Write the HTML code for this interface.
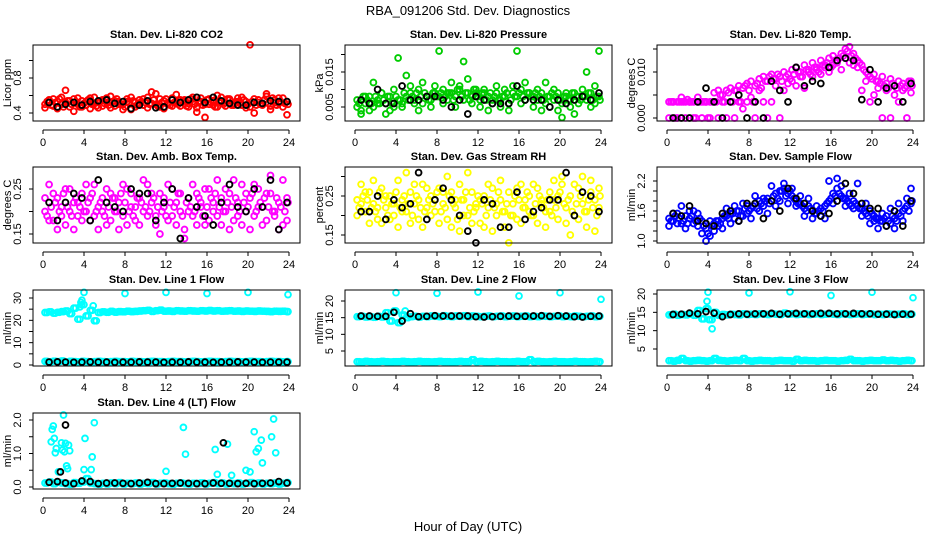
<!DOCTYPE html>
<html><head><meta charset="utf-8">
<style>
html,body{margin:0;padding:0;background:#fff;}
svg{display:block;font-family:"Liberation Sans",sans-serif;}
</style></head>
<body>
<svg id="chart" width="936" height="540" viewBox="0 0 936 540">
<text x="468" y="15" text-anchor="middle" font-size="13">RBA_091206  Std. Dev. Diagnostics</text>
<text x="468" y="531" text-anchor="middle" font-size="13">Hour of Day (UTC)</text>
</svg>
<script>
// shared hour categories
const denseHours = [0.2,0.6,1.0,1.4,1.8,2.2,2.6,3.0,3.4,3.8,4.2,4.6,5.0,5.4,5.8,6.2,6.6,7.0,7.4,7.8,8.2,8.6,9.0,9.4,9.8,10.2,10.6,11.0,11.4,11.8,12.2,12.6,13.0,13.4,13.8,14.2,14.6,15.0,15.4,15.8,16.2,16.6,17.0,17.4,17.8,18.2,18.6,19.0,19.4,19.8,20.2,20.6,21.0,21.4,21.8,22.2,22.6,23.0,23.4,23.8];
const offsetHours = [0.4,0.8,1.2,1.6,2.0,2.4,2.8,3.2,3.6,4.0,4.4,4.8,5.2,5.6,6.0,6.4,6.8,7.2,7.6,8.0,8.4,8.8,9.2,9.6,10.0,10.4,10.8,11.2,11.6,12.0,12.4,12.8,13.2,13.6,14.0,14.4,14.8,15.2,15.6,16.0,16.4,16.8,17.2,17.6,18.0,18.4,18.8,19.2,19.6,20.0,20.4,20.8,21.2,21.6,22.0,22.4,22.8,23.2,23.6,23.9];
const blackHours = [0.6,1.4,2.2,3.0,3.8,4.6,5.4,6.2,7.0,7.8,8.6,9.4,10.2,11.0,11.8,12.6,13.4,14.2,15.0,15.8,16.6,17.4,18.2,19.0,19.8,20.6,21.4,22.2,23.0,23.8];
const xTicks = [0,4,8,12,16,20,24];

// CO2
const co2A = [0.50,0.55,0.48,0.53,0.58,0.52,0.47,0.56,0.50,0.54,0.49,0.57,0.51,0.46,0.55,0.52,0.59,0.48,0.53,0.50,0.56,0.44,0.52,0.55,0.49,0.58,0.51,0.62,0.47,0.54,0.50,0.57,0.53,0.48,0.55,0.51,0.58,0.46,0.53,0.50,0.56,0.49,0.60,0.52,0.48,0.55,0.51,0.57,0.49,0.53,0.47,0.56,0.52,0.50,0.59,0.48,0.55,0.51,0.57,0.53];
const co2B = [0.46,0.52,0.56,0.45,0.50,0.66,0.54,0.42,0.57,0.47,0.53,0.45,0.58,0.52,0.48,0.57,0.46,0.54,0.50,0.44,0.53,0.58,0.47,0.51,0.56,0.46,0.64,0.50,0.56,0.45,0.52,0.48,0.61,0.55,0.51,0.47,0.53,0.41,0.57,0.35,0.50,0.54,0.47,0.58,0.52,0.56,0.49,0.53,0.58,0.46,1.18,0.40,0.55,0.49,0.62,0.44,0.52,0.57,0.47,0.38];
const co2C = [0.53,0.49,0.52,0.56,0.47,0.54,0.50,0.53,0.47,0.51,0.55,0.50,0.48,0.54,0.51,0.49,0.53,0.56,0.50,0.47,0.52,0.54,0.49,0.53,0.52,0.50,0.55,0.48,0.52,0.56,0.49,0.52,0.50,0.54,0.48,0.56,0.50,0.53,0.49,0.55,0.52,0.47,0.54,0.50,0.56,0.49,0.53,0.51,0.55,0.50,0.53,0.49,0.50,0.55,0.51,0.57,0.49,0.53,0.51,0.50];
const co2Black = [0.52,0.47,0.50,0.52,0.49,0.53,0.54,0.55,0.51,0.53,0.45,0.49,0.54,0.46,0.47,0.55,0.52,0.55,0.58,0.52,0.58,0.54,0.51,0.49,0.49,0.52,0.51,0.54,0.53,0.53];
// Pressure
const presA = [0.007,0.004,0.006,0.008,0.005,0.007,0.009,0.006,0.008,0.005,0.007,0.006,0.008,0.009,0.007,0.010,0.006,0.008,0.007,0.009,0.008,0.010,0.007,0.009,0.008,0.011,0.007,0.009,0.008,0.010,0.007,0.009,0.008,0.006,0.009,0.007,0.008,0.006,0.009,0.008,0.010,0.007,0.009,0.008,0.007,0.009,0.006,0.008,0.007,0.009,0.006,0.008,0.007,0.009,0.006,0.008,0.007,0.009,0.006,0.008];
const presB = [0.005,0.003,0.008,0.004,0.012,0.006,0.009,0.003,0.004,0.010,0.019,0.005,0.014,0.011,0.006,0.004,0.012,0.008,0.005,0.011,0.021,0.006,0.009,0.012,0.005,0.010,0.018,0.013,0.006,0.009,0.005,0.010,0.004,0.007,0.011,0.005,0.010,0.004,0.011,0.021,0.006,0.012,0.009,0.005,0.010,0.004,0.012,0.005,0.010,0.004,0.002,0.009,0.005,0.003,0.008,0.010,0.015,0.005,0.011,0.021];
const presC = [0.006,0.008,0.007,0.006,0.008,0.006,0.007,0.008,0.006,0.008,0.007,0.009,0.007,0.008,0.009,0.008,0.009,0.007,0.009,0.008,0.009,0.008,0.009,0.007,0.010,0.008,0.009,0.007,0.010,0.008,0.009,0.007,0.009,0.008,0.007,0.008,0.009,0.007,0.008,0.009,0.008,0.009,0.008,0.009,0.008,0.007,0.008,0.009,0.008,0.007,0.008,0.007,0.009,0.008,0.007,0.008,0.009,0.007,0.008,0.007];
const presBlack = [0.007,0.006,0.010,0.006,0.006,0.011,0.007,0.007,0.008,0.008,0.007,0.005,0.007,0.003,0.008,0.007,0.006,0.006,0.006,0.011,0.007,0.007,0.007,0.005,0.007,0.006,0.007,0.008,0.007,0.009];
// Li-820 Temp
const tempA = [0.0035,0.0035,0.0035,0.0045,0.0035,0.0035,0.0035,0.0045,0.0035,0.0035,0.0035,0.0055,0.0060,0.0050,0.0060,0.0065,0.0060,0.0070,0.0065,0.0075,0.0080,0.0070,0.0085,0.0090,0.0080,0.0095,0.0085,0.0090,0.0100,0.0095,0.0105,0.0110,0.0100,0.0115,0.0105,0.0120,0.0110,0.0125,0.0115,0.0130,0.0135,0.0125,0.0140,0.0150,0.0155,0.0140,0.0125,0.0115,0.0100,0.0090,0.0095,0.0080,0.0090,0.0075,0.0085,0.0070,0.0080,0.0075,0.0070,0.0080];
const tempB = [0.0000,0.0035,0.0000,0.0035,0.0000,0.0035,0.0000,0.0035,0.0000,0.0035,0.0000,0.0035,0.0000,0.0035,0.0000,0.0035,0.0000,0.0035,0.0020,0.0035,0.0045,0.0000,0.0060,0.0035,0.0000,0.0035,0.0070,0.0000,0.0060,0.0075,0.0080,0.0070,0.0090,0.0065,0.0100,0.0090,0.0105,0.0095,0.0110,0.0100,0.0115,0.0120,0.0105,0.0130,0.0120,0.0115,0.0110,0.0060,0.0080,0.0035,0.0050,0.0065,0.0000,0.0060,0.0000,0.0050,0.0035,0.0060,0.0000,0.0055];
const tempC = [0.0035,0.0000,0.0035,0.0035,0.0040,0.0035,0.0000,0.0035,0.0035,0.0000,0.0035,0.0035,0.0050,0.0035,0.0055,0.0035,0.0060,0.0035,0.0070,0.0060,0.0035,0.0075,0.0065,0.0080,0.0090,0.0085,0.0095,0.0080,0.0090,0.0085,0.0095,0.0100,0.0090,0.0105,0.0095,0.0110,0.0100,0.0115,0.0120,0.0110,0.0125,0.0130,0.0135,0.0145,0.0135,0.0130,0.0120,0.0105,0.0095,0.0085,0.0080,0.0075,0.0070,0.0065,0.0075,0.0065,0.0070,0.0065,0.0080,0.0070];
const tempBlack = [0.0000,0.0000,0.0000,0.0035,0.0065,0.0035,0.0000,0.0035,0.0050,0.0000,0.0035,0.0000,0.0080,0.0060,0.0035,0.0110,0.0070,0.0080,0.0075,0.0110,0.0125,0.0130,0.0125,0.0040,0.0105,0.0035,0.0065,0.0070,0.0035,0.0075];
// Amb box temp
const ambA = [0.20,0.26,0.18,0.23,0.21,0.17,0.25,0.22,0.19,0.24,0.20,0.18,0.26,0.21,0.23,0.17,0.24,0.20,0.22,0.19,0.25,0.21,0.18,0.23,0.20,0.26,0.22,0.19,0.24,0.21,0.18,0.25,0.22,0.20,0.16,0.23,0.19,0.24,0.21,0.17,0.25,0.22,0.19,0.23,0.20,0.24,0.18,0.22,0.26,0.20,0.23,0.19,0.25,0.21,0.18,0.24,0.20,0.22,0.17,0.23];
const ambB = [0.23,0.18,0.24,0.16,0.19,0.25,0.20,0.16,0.22,0.18,0.26,0.23,0.19,0.16,0.20,0.25,0.18,0.23,0.16,0.26,0.17,0.24,0.21,0.17,0.27,0.19,0.24,0.17,0.15,0.23,0.26,0.19,0.17,0.24,0.14,0.20,0.26,0.17,0.22,0.25,0.18,0.20,0.27,0.17,0.25,0.16,0.27,0.19,0.17,0.24,0.16,0.26,0.21,0.17,0.24,0.28,0.19,0.16,0.27,0.18];
const ambC = [0.19,0.21,0.22,0.20,0.24,0.21,0.19,0.23,0.21,0.20,0.22,0.24,0.20,0.22,0.19,0.21,0.23,0.20,0.24,0.22,0.20,0.19,0.23,0.22,0.21,0.20,0.23,0.21,0.20,0.19,0.22,0.21,0.24,0.19,0.22,0.21,0.20,0.23,0.19,0.21,0.23,0.24,0.21,0.20,0.22,0.21,0.23,0.20,0.22,0.21,0.24,0.20,0.22,0.23,0.21,0.20,0.23,0.21,0.20,0.22];
const ambBlack = [0.22,0.18,0.22,0.24,0.23,0.18,0.27,0.22,0.21,0.20,0.25,0.24,0.24,0.18,0.22,0.25,0.14,0.23,0.21,0.19,0.17,0.22,0.26,0.21,0.20,0.25,0.21,0.27,0.16,0.22];
// Gas stream RH
const rhA = [0.24,0.28,0.21,0.26,0.23,0.19,0.27,0.22,0.25,0.20,0.29,0.24,0.21,0.26,0.23,0.19,0.28,0.22,0.25,0.21,0.27,0.23,0.19,0.26,0.22,0.28,0.24,0.20,0.26,0.23,0.18,0.25,0.22,0.27,0.20,0.24,0.21,0.26,0.23,0.19,0.28,0.22,0.25,0.20,0.27,0.23,0.21,0.26,0.24,0.19,0.28,0.22,0.25,0.20,0.27,0.23,0.21,0.26,0.24,0.22];
const rhB = [0.20,0.23,0.26,0.18,0.29,0.22,0.18,0.25,0.19,0.23,0.17,0.21,0.31,0.18,0.28,0.24,0.17,0.27,0.20,0.24,0.18,0.26,0.30,0.17,0.24,0.16,0.20,0.31,0.18,0.22,0.24,0.17,0.28,0.16,0.23,0.29,0.17,0.13,0.20,0.27,0.18,0.24,0.21,0.28,0.18,0.24,0.17,0.21,0.29,0.25,0.30,0.18,0.15,0.28,0.19,0.30,0.17,0.29,0.16,0.27];
const rhC = [0.22,0.25,0.24,0.22,0.21,0.26,0.24,0.20,0.23,0.26,0.22,0.25,0.23,0.20,0.25,0.22,0.21,0.24,0.23,0.26,0.21,0.22,0.25,0.23,0.19,0.24,0.26,0.22,0.21,0.25,0.23,0.20,0.24,0.22,0.26,0.21,0.23,0.20,0.25,0.24,0.22,0.26,0.20,0.23,0.25,0.22,0.24,0.20,0.22,0.26,0.23,0.24,0.21,0.23,0.25,0.21,0.24,0.22,0.20,0.25];
const rhBlack = [0.21,0.21,0.25,0.19,0.24,0.22,0.23,0.31,0.19,0.24,0.27,0.24,0.20,0.16,0.13,0.24,0.23,0.17,0.17,0.26,0.19,0.21,0.22,0.24,0.24,0.31,0.20,0.26,0.25,0.21];
// Sample flow
const sfA = [1.45,1.40,1.55,1.35,1.50,1.45,1.60,1.30,1.40,1.25,1.10,1.35,1.30,1.45,1.50,1.55,1.45,1.60,1.50,1.70,1.65,1.75,1.80,1.70,1.85,1.80,1.95,2.00,2.05,1.95,1.90,1.80,1.75,1.65,1.70,1.60,1.55,1.65,1.70,1.80,1.95,2.05,1.90,1.85,1.75,1.80,1.70,1.65,1.55,1.60,1.50,1.45,1.40,1.50,1.35,1.45,1.55,1.60,1.70,1.75];
const sfB = [1.30,1.55,1.35,1.70,1.25,1.60,1.35,1.55,1.15,1.00,1.40,1.20,1.40,1.25,1.65,1.35,1.70,1.40,1.75,1.55,1.45,1.90,1.60,1.85,1.55,2.10,1.70,1.80,2.15,1.75,2.05,1.70,1.90,1.50,1.85,1.45,1.70,1.50,1.45,2.20,1.75,2.25,2.10,1.70,1.95,1.65,2.15,1.50,1.75,1.35,1.40,1.25,1.55,1.30,1.65,1.25,1.75,1.40,1.85,2.05];
const sfC = [1.40,1.50,1.45,1.40,1.35,1.50,1.40,1.45,1.30,1.15,1.30,1.40,1.35,1.50,1.45,1.55,1.60,1.50,1.65,1.60,1.70,1.65,1.75,1.80,1.75,1.90,1.85,2.00,1.90,2.00,1.85,1.75,1.70,1.60,1.65,1.55,1.60,1.60,1.75,1.85,1.90,1.95,1.85,1.80,1.70,1.75,1.65,1.60,1.50,1.55,1.45,1.40,1.45,1.40,1.50,1.40,1.50,1.65,1.60,1.80];
const sfBlack = [1.55,1.50,1.70,1.40,1.35,1.30,1.55,1.60,1.40,1.75,1.75,1.45,1.80,1.60,2.05,1.85,1.75,1.60,1.50,1.55,1.80,2.15,1.95,1.75,1.65,1.65,1.30,1.60,1.30,1.80];
// Line 1 flow
const l1Upper = [23.5,23.8,23.2,23.6,23.9,24.2,23.0,25.5,20.5,27.0,22.0,24.5,19.8,23.5,23.8,23.6,24.0,23.7,23.9,23.8,24.1,23.9,24.0,24.2,24.3,24.5,24.0,24.3,24.6,24.1,24.2,24.0,24.3,24.2,24.1,24.3,24.2,24.1,24.3,24.2,24.4,24.2,24.3,24.1,24.2,24.3,24.1,24.2,24.0,24.2,24.1,24.0,24.2,24.1,24.0,23.9,24.1,24.0,24.1,23.9];
const l1Lower = [1.6,1.4,1.7,1.5,1.8,1.3,1.6,1.5,1.4,1.6,1.5,1.4,1.5,1.6,1.5,1.4,1.5,1.6,1.5,1.5,1.4,1.6,1.5,1.5,1.4,1.5,1.6,1.5,1.5,1.4,1.5,1.6,1.5,1.5,1.4,1.5,1.6,1.5,1.4,1.5,1.6,1.5,1.5,1.4,1.5,1.6,1.5,1.5,1.4,1.5,1.6,1.5,1.5,1.4,1.5,1.6,1.5,1.5,1.4,1.5];
const l1Black = [1.3,1.4,1.3,1.2,1.3,1.4,1.3,1.3,1.2,1.3,1.3,1.4,1.3,1.3,1.2,1.3,1.3,1.4,1.3,1.3,1.2,1.3,1.3,1.4,1.3,1.3,1.2,1.3,1.3,1.3];
const l1OutHours = [3.6,3.7,3.8,4.0,4.9,8.0,12.0,16.0,20.0,23.9];
const l1OutValues = [26.0,28.0,29.0,32.5,26.5,32.0,32.5,32.0,32.5,31.5];
// Line 2 flow
const l2Upper = [15.3,15.4,15.2,15.3,15.1,15.4,15.2,16.5,14.0,17.0,13.5,15.8,15.0,15.3,15.4,15.2,15.4,15.3,15.5,15.4,15.3,15.6,15.4,15.3,15.5,15.4,15.6,15.3,15.5,15.4,15.3,15.4,15.5,15.3,15.4,15.5,15.3,15.4,15.5,15.3,15.4,15.5,15.3,15.4,15.3,15.5,15.4,15.3,15.4,15.5,15.3,15.4,15.3,15.5,15.4,15.3,15.4,15.5,15.3,15.4];
const l2Lower = [1.8,1.7,1.9,1.8,1.7,1.8,1.9,1.8,1.7,1.8,1.8,1.9,1.8,1.7,1.8,1.9,1.8,1.8,1.7,1.8,1.9,1.8,1.8,1.7,1.8,1.9,1.8,1.8,2.4,1.8,1.9,1.8,1.7,1.8,1.9,1.8,1.8,1.7,1.8,1.9,1.8,1.8,2.4,1.8,1.9,1.8,1.7,1.8,1.9,1.8,1.8,1.7,1.8,1.9,1.8,1.8,1.7,1.8,1.9,1.8];
const l2Black = [15.5,15.5,15.4,15.4,16.6,14.0,16.2,15.3,15.4,15.6,15.5,15.5,15.5,15.5,15.3,15.2,15.3,15.4,15.5,15.4,15.4,15.5,15.6,15.4,15.6,15.5,15.3,15.2,15.4,15.5];
const l2OutHours = [3.9,4.0,4.9,8.0,12.0,16.0,20.0,24.0];
const l2OutValues = [17.0,22.5,17.0,22.3,22.7,21.5,22.5,20.5];
// Line 3 flow
const l3Upper = [14.3,14.5,14.2,14.4,14.3,14.5,14.2,15.5,13.2,16.0,13.0,15.0,14.2,14.4,14.3,14.5,14.4,14.3,14.6,14.4,14.5,14.4,14.6,14.5,14.4,14.6,14.5,14.4,14.8,14.5,14.6,14.4,14.5,14.6,14.4,14.5,14.6,14.4,14.5,14.6,14.5,14.4,14.6,14.5,14.4,14.5,14.6,14.4,14.5,14.6,14.4,14.5,14.4,14.6,14.5,14.4,14.5,14.6,14.4,14.5];
const l3Lower = [1.8,1.7,1.9,2.4,1.8,1.7,1.8,1.9,1.8,1.7,1.8,2.4,1.9,1.8,1.7,1.8,1.9,1.8,2.4,1.8,1.7,1.8,1.9,1.8,1.8,1.7,1.8,1.9,1.8,1.8,1.7,2.2,1.8,1.9,1.8,1.8,1.7,1.8,1.9,1.8,1.8,1.7,1.8,1.9,2.2,1.8,1.8,1.7,1.8,1.9,1.8,1.8,2.0,1.8,1.9,1.8,1.7,1.8,1.9,1.8];
const l3Black = [14.4,14.5,14.8,14.6,15.2,14.8,13.8,14.4,14.6,14.5,14.6,14.6,14.7,14.5,14.6,14.7,14.6,14.6,14.7,14.7,14.6,14.6,14.7,14.6,14.6,14.5,14.5,14.4,14.5,14.5];
const l3OutHours = [3.9,4.0,4.1,4.4,8.0,12.0,16.0,20.0,24.0];
const l3OutValues = [18.0,20.5,13.0,10.5,20.3,20.6,19.6,20.5,19.0];
// Line 4 (LT) flow
const l4Band = [0.12,0.15,0.10,0.14,0.12,0.10,0.08,0.13,0.11,0.15,0.25,0.12,0.10,0.08,0.11,0.09,0.12,0.10,0.13,0.09,0.11,0.10,0.12,0.09,0.11,0.10,0.13,0.09,0.11,0.12,0.10,0.08,0.11,0.12,0.10,0.09,0.11,0.10,0.12,0.09,0.11,0.13,0.10,0.12,0.09,0.11,0.10,0.12,0.09,0.11,0.13,0.10,0.12,0.09,0.11,0.10,0.12,0.09,0.11,0.13];
const l4Black = [0.14,0.16,0.12,0.10,0.18,0.16,0.10,0.12,0.12,0.11,0.10,0.12,0.14,0.10,0.10,0.11,0.12,0.11,0.10,0.10,0.12,0.11,0.11,0.10,0.11,0.10,0.11,0.12,0.16,0.12];
const l4OutHours = [0.8,0.9,1.0,1.1,1.2,1.3,1.5,1.8,1.9,2.0,2.1,2.2,2.3,2.4,2.5,2.6,4.0,4.1,4.7,4.8,5.0,12.0,13.7,13.9,16.8,17.0,18.0,18.4,19.8,20.2,20.6,20.8,21.0,21.3,21.4,22.3,22.5,22.7];
const l4OutValues = [1.35,1.72,1.82,1.45,1.02,1.15,0.45,1.32,1.10,2.15,1.05,1.30,0.63,0.55,1.25,1.08,0.52,1.45,0.52,0.90,1.92,0.47,1.78,0.98,1.12,0.38,1.28,0.35,0.50,0.45,1.65,1.05,1.15,1.40,0.72,1.50,2.03,1.02];
const l4BlackOutHours = [1.7,2.2,17.6];
const l4BlackOutValues = [0.45,1.85,1.32];

const svg = document.getElementById('chart');
const NS = 'http://www.w3.org/2000/svg';
const colX = [33,345,657], rowY = [45,167,290,413], boxW = 267, boxH = 76;

function mk(tag, attrs, parent){
  const e = document.createElementNS(NS, tag);
  for (const k in attrs) e.setAttribute(k, attrs[k]);
  parent.appendChild(e);
  return e;
}

const panels = [
 {name:'co2', title:'Stan. Dev. Li-820 CO2', ylab:'Licor ppm', col:0,row:0, ref:[0.4,113,0.8,78], ticks:[0.4,0.6,0.8,1.0], labels:['0.4','','0.8',''], color:'#ff0000',
  series:[[denseHours,co2A],[denseHours,co2B],[offsetHours,co2C]], black:[[blackHours,co2Black]]},
 {name:'pressure', title:'Stan. Dev. Li-820 Pressure', ylab:'kPa', col:1,row:0, ref:[0.005,107,0.015,72], ticks:[0.005,0.010,0.015,0.020], labels:['0.005','','0.015',''], color:'#00cc00',
  series:[[denseHours,presA],[denseHours,presB],[offsetHours,presC]], black:[[blackHours,presBlack]]},
 {name:'li820-temp', title:'Stan. Dev. Li-820 Temp.', ylab:'degrees C', col:2,row:0, ref:[0,118,0.010,72], ticks:[0,0.005,0.010,0.015], labels:['0.000','','0.010',''], color:'#ff00ff',
  series:[[denseHours,tempA],[denseHours,tempB],[offsetHours,tempC]], black:[[blackHours,tempBlack]]},
 {name:'amb-box-temp', title:'Stan. Dev. Amb. Box Temp.', ylab:'degrees C', col:0,row:1, ref:[0.15,234,0.25,189], ticks:[0.15,0.20,0.25], labels:['0.15','','0.25'], color:'#ff00ff',
  series:[[denseHours,ambA],[denseHours,ambB],[offsetHours,ambC]], black:[[blackHours,ambBlack]]},
 {name:'gas-stream-rh', title:'Stan. Dev. Gas Stream RH', ylab:'percent', col:1,row:1, ref:[0.15,235,0.25,196], ticks:[0.15,0.20,0.25,0.30], labels:['0.15','','0.25',''], color:'#ffff00',
  series:[[denseHours,rhA],[denseHours,rhB],[offsetHours,rhC]], black:[[blackHours,rhBlack]]},
 {name:'sample-flow', title:'Stan. Dev. Sample Flow', ylab:'ml/min', col:2,row:1, ref:[1.0,241,2.2,181], ticks:[1.0,1.2,1.4,1.6,1.8,2.0,2.2], labels:['1.0','','','1.6','','','2.2'], color:'#0000ff',
  series:[[denseHours,sfA],[denseHours,sfB],[offsetHours,sfC]], black:[[blackHours,sfBlack]]},
 {name:'line1-flow', title:'Stan. Dev. Line 1 Flow', ylab:'ml/min', col:0,row:2, ref:[0,365,30,298], ticks:[0,5,10,15,20,25,30], labels:['0','','10','','20','','30'], color:'#00ffff',
  series:[[denseHours,l1Upper],[offsetHours,l1Upper],[denseHours,l1Lower],[offsetHours,l1Lower],[l1OutHours,l1OutValues]], black:[[blackHours,l1Black]]},
 {name:'line2-flow', title:'Stan. Dev. Line 2 Flow', ylab:'ml/min', col:1,row:2, ref:[5,351,20,301], ticks:[5,10,15,20], labels:['5','10','15','20'], color:'#00ffff',
  series:[[denseHours,l2Upper],[offsetHours,l2Upper],[denseHours,l2Lower],[offsetHours,l2Lower],[l2OutHours,l2OutValues]], black:[[blackHours,l2Black]]},
 {name:'line3-flow', title:'Stan. Dev. Line 3 Flow', ylab:'ml/min', col:2,row:2, ref:[5,349,20,294], ticks:[5,10,15,20], labels:['5','10','15','20'], color:'#00ffff',
  series:[[denseHours,l3Upper],[offsetHours,l3Upper],[denseHours,l3Lower],[offsetHours,l3Lower],[l3OutHours,l3OutValues]], black:[[blackHours,l3Black]]},
 {name:'line4-flow', title:'Stan. Dev. Line 4 (LT) Flow', ylab:'ml/min', col:0,row:3, ref:[0,487,2.0,420], ticks:[0,0.5,1.0,1.5,2.0], labels:['0.0','','1.0','','2.0'], color:'#00ffff',
  series:[[denseHours,l4Band],[offsetHours,l4Band],[l4OutHours,l4OutValues]], black:[[blackHours,l4Black],[l4BlackOutHours,l4BlackOutValues]]}
];

panels.forEach(p => {
  const bx = colX[p.col], by = rowY[p.row];
  const g = mk('g', {}, svg);
  
  
  const xs = h => bx + 10 + h * 10.25;
  const ys = v => p.ref[1] + (v - p.ref[0]) * (p.ref[3] - p.ref[1]) / (p.ref[2] - p.ref[0]);
  const t = mk('text', {x: bx + boxW/2, y: by - 7, 'text-anchor':'middle', 'font-size':11, 'font-weight':'bold'}, g);
  t.textContent = p.title;
  
  
  const pts = mk('g', {fill:'none', 'stroke-width':1.9}, g);
  
  
  p.series.forEach(s => {
    s[0].forEach((h, i) => {
      const c = mk('circle', {cx: xs(h).toFixed(1), cy: ys(s[1][i]).toFixed(1), r: 2.9, stroke: p.color}, pts);
      
      
    });
  });
  p.black.forEach(s => {
    s[0].forEach((h, i) => {
      const c = mk('circle', {cx: xs(h).toFixed(1), cy: ys(s[1][i]).toFixed(1), r: 2.9, stroke: '#000'}, pts);
      
      
    });
  });
  const box = mk('rect', {x: bx, y: by, width: boxW, height: boxH, fill:'none', stroke:'#000', 'stroke-width':1}, g);
  
  
  const xa = mk('g', {stroke:'#000', 'stroke-width':1}, g);
  
  
  const ay = by + boxH + 9;
  mk('line', {x1: xs(0), x2: xs(24), y1: ay, y2: ay}, xa);
  xTicks.forEach(v => {
    mk('line', {x1: xs(v), x2: xs(v), y1: ay, y2: ay + 4}, xa);
    const tl = mk('text', {x: xs(v), y: ay + 16, 'text-anchor':'middle', 'font-size':11, stroke:'none', fill:'#000'}, xa);
    tl.textContent = v;
    
    
  });
  const ya = mk('g', {stroke:'#000', 'stroke-width':1}, g);
  
  
  p.ticks.forEach((v, i) => {
    const y = ys(v);
    mk('line', {x1: bx - 4, x2: bx, y1: y, y2: y}, ya);
    if (p.labels[i]) {
      const tl = mk('text', {x: bx - 12, y: y, 'text-anchor':'middle', 'font-size':11, stroke:'none', fill:'#000', transform:`rotate(-90 ${bx-12} ${y})`}, ya);
      tl.textContent = p.labels[i];
      
      
    }
  });
  const yl = mk('text', {x: bx - 22, y: by + boxH/2, 'text-anchor':'middle', 'font-size':11, transform:`rotate(-90 ${bx-22} ${by+boxH/2})`}, g);
  yl.textContent = p.ylab;
  
  
});
</script>
</body></html>
